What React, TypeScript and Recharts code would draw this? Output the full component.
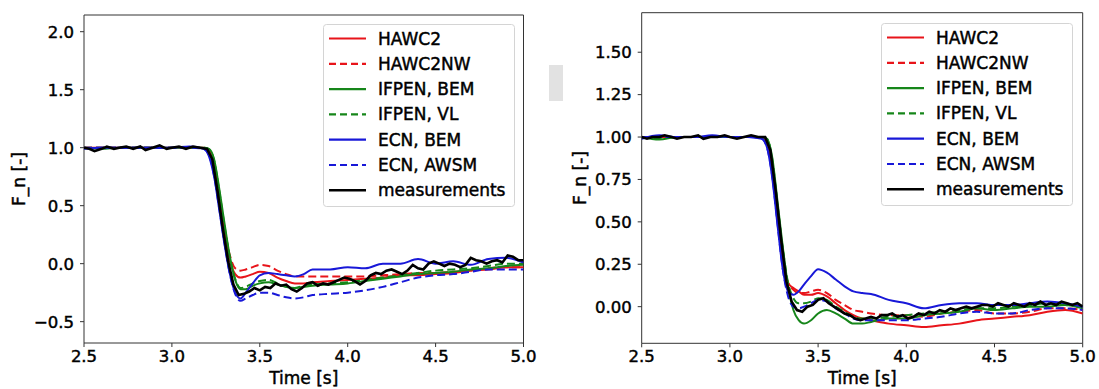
import React from "react";
import { Label, Line, LineChart, ReferenceArea, XAxis, YAxis } from "recharts";

// time grids
const tModel = [
  2.5, 2.6, 2.7, 2.8, 2.9, 3.0, 3.1, 3.18, 3.21, 3.24, 3.27, 3.3, 3.33, 3.36, 3.39, 3.42, 3.46, 3.5,
  3.55, 3.6, 3.65, 3.7, 3.75, 3.8, 3.9, 4.0, 4.1, 4.2, 4.3, 4.4, 4.5, 4.6, 4.7, 4.8, 4.9, 5.0,
];
const tMeas = [
  2.5, 2.53, 2.56, 2.6, 2.63, 2.67, 2.7, 2.74, 2.78, 2.82, 2.85, 2.89, 2.93, 2.97, 3.0, 3.04, 3.08,
  3.12, 3.16, 3.2, 3.23, 3.26, 3.29, 3.32, 3.35, 3.38, 3.41, 3.44, 3.47, 3.5, 3.53, 3.56, 3.59, 3.62,
  3.65, 3.68, 3.71, 3.74, 3.77, 3.8, 3.83, 3.86, 3.89, 3.92, 3.95, 3.98, 4.01, 4.04, 4.07, 4.1, 4.13,
  4.16, 4.19, 4.22, 4.25, 4.28, 4.31, 4.34, 4.37, 4.4, 4.43, 4.46, 4.49, 4.52, 4.55, 4.58, 4.61, 4.64,
  4.67, 4.7, 4.73, 4.76, 4.79, 4.82, 4.85, 4.88, 4.91, 4.94, 4.97, 5.0,
];

const xTicks = [2.5, 3.0, 3.5, 4.0, 4.5, 5.0];
const leftTicks = [-0.5, 0, 0.5, 1.0, 1.5, 2.0];
const rightTicks = [0, 0.25, 0.5, 0.75, 1.0, 1.25, 1.5];

// left panel
const hawc2L = [
  1.0, 1.0, 1.0, 1.0, 1.0, 1.0, 1.0, 1.0, 0.98, 0.84, 0.56, 0.27, 0.03, -0.09, -0.12, -0.11, -0.09,
  -0.07, -0.08, -0.12, -0.15, -0.17, -0.17, -0.16, -0.15, -0.14, -0.13, -0.12, -0.1, -0.1, -0.09,
  -0.08, -0.06, -0.05, -0.03, -0.03,
];
const hawc2nwL = [
  1.0, 1.0, 1.0, 1.0, 1.0, 1.0, 1.0, 1.0, 0.98, 0.84, 0.57, 0.29, 0.07, -0.04, -0.06, -0.05, -0.03,
  -0.01, -0.02, -0.06, -0.09, -0.11, -0.11, -0.11, -0.11, -0.11, -0.11, -0.1, -0.09, -0.08, -0.08,
  -0.07, -0.06, -0.04, -0.03, -0.03,
];
const ifpenBemL = [
  1.0, 0.99, 1.0, 1.0, 1.0, 1.0, 1.0, 1.0, 0.99, 0.9, 0.64, 0.34, 0.06, -0.14, -0.22, -0.22, -0.19,
  -0.17, -0.16, -0.18, -0.2, -0.21, -0.2, -0.19, -0.18, -0.17, -0.15, -0.13, -0.11, -0.09, -0.08,
  -0.07, -0.05, -0.04, -0.02, -0.01,
];
const ifpenVlL = [
  1.0, 1.0, 1.0, 1.0, 1.0, 1.0, 1.0, 1.0, 0.99, 0.89, 0.62, 0.32, 0.05, -0.13, -0.21, -0.2, -0.17,
  -0.15, -0.14, -0.17, -0.2, -0.21, -0.19, -0.18, -0.17, -0.16, -0.14, -0.12, -0.1, -0.08, -0.06,
  -0.05, -0.04, -0.02, 0.0, 0.0,
];
const ecnBemL = [
  0.99, 1.0, 1.0, 1.0, 1.0, 1.0, 1.01, 0.99, 0.93, 0.75, 0.46, 0.16, -0.09, -0.25, -0.3, -0.25,
  -0.17, -0.1, -0.08, -0.09, -0.1, -0.11, -0.09, -0.05, -0.05, -0.03, -0.04, 0.0, 0.0, 0.04, 0.0,
  0.02, -0.01, 0.04, 0.05, 0.01,
];
const ecnAwsmL = [
  1.0, 1.0, 1.0, 1.0, 1.0, 1.0, 1.0, 0.99, 0.94, 0.76, 0.47, 0.17, -0.09, -0.26, -0.32, -0.3, -0.27,
  -0.25, -0.25, -0.27, -0.29, -0.3, -0.29, -0.27, -0.26, -0.25, -0.23, -0.2, -0.16, -0.12, -0.1,
  -0.09, -0.07, -0.05, -0.05, -0.05,
];
const measL = [
  1.0, 0.99, 0.97, 0.99, 1.01, 0.99, 1.0, 1.01, 0.99, 1.01, 0.98, 1.0, 1.02, 0.99, 1.0, 1.01, 0.99,
  1.01, 1.0, 0.99, 0.9, 0.62, 0.3, 0.02, -0.18, -0.27, -0.26, -0.24, -0.21, -0.23, -0.2, -0.21,
  -0.17, -0.19, -0.18, -0.22, -0.24, -0.21, -0.17, -0.16, -0.19, -0.17, -0.18, -0.16, -0.14, -0.12,
  -0.13, -0.15, -0.18, -0.15, -0.1, -0.08, -0.09, -0.06, -0.05, -0.07, -0.09, -0.06, -0.01, -0.04,
  -0.05, 0.0, 0.02, 0.0, -0.02, 0.0, -0.01, -0.03, -0.01, 0.05, 0.03, 0.02, 0.0, 0.02, 0.03, 0.01,
  0.07, 0.06, 0.03, 0.03,
];

// right panel
const hawc2R = [
  1.0, 1.0, 1.0, 1.0, 1.0, 1.0, 1.0, 1.0, 0.97, 0.8, 0.52, 0.28, 0.14, 0.11, 0.09, 0.07, 0.07, 0.08,
  0.06, 0.02, -0.02, -0.05, -0.07, -0.08, -0.1, -0.11, -0.12, -0.11, -0.1, -0.08, -0.07, -0.06,
  -0.05, -0.03, -0.02, -0.04,
];
const hawc2nwR = [
  1.0, 1.0, 1.0, 1.0, 1.0, 1.0, 1.0, 1.0, 0.97, 0.8, 0.53, 0.29, 0.14, 0.1, 0.08, 0.08, 0.09, 0.1,
  0.08, 0.04, 0.01, -0.02, -0.03, -0.04, -0.05, -0.05, -0.06, -0.04, -0.03, -0.02, -0.04, -0.04,
  -0.03, -0.01, -0.01, -0.02,
];
const ifpenBemR = [
  1.0, 0.985, 1.0, 1.0, 1.0, 1.0, 1.0, 1.0, 0.99, 0.88, 0.62, 0.35, 0.12, -0.02, -0.08, -0.1, -0.08,
  -0.04, -0.02, -0.04, -0.07, -0.1, -0.1, -0.09, -0.07, -0.07, -0.05, -0.04, -0.03, -0.01, -0.02,
  -0.01, 0.0, 0.0, 0.01, -0.01,
];
const ifpenVlR = [
  1.0, 0.99, 1.0, 1.0, 1.0, 1.0, 1.0, 1.0, 0.99, 0.87, 0.6, 0.34, 0.14, 0.05, 0.02, 0.02, 0.03, 0.05,
  0.04, 0.0, -0.03, -0.06, -0.07, -0.07, -0.06, -0.05, -0.04, -0.03, -0.02, -0.01, -0.01, 0.0, 0.01,
  0.02, 0.01, 0.0,
];
const ecnBemR = [
  0.99, 1.01, 1.0, 1.0, 1.01, 1.0, 1.0, 0.99, 0.94, 0.76, 0.48, 0.22, 0.09, 0.07, 0.09, 0.13, 0.18,
  0.22, 0.2, 0.16, 0.12, 0.09, 0.08, 0.075, 0.04, 0.02, -0.01, 0.01, 0.02, 0.02, 0.01, 0.01, 0.02,
  0.03, 0.02, 0.0,
];
const ecnAwsmR = [
  1.0, 1.0, 1.0, 1.0, 1.0, 1.0, 1.0, 0.99, 0.94, 0.77, 0.49, 0.22, 0.06, 0.0, -0.01, 0.0, 0.02, 0.04,
  0.03, -0.01, -0.04, -0.07, -0.08, -0.08, -0.08, -0.08, -0.07, -0.06, -0.04, -0.03, -0.04, -0.04,
  -0.02, -0.01, -0.01, -0.02,
];
const measR = [
  1.0, 0.99, 1.0, 1.0, 1.01, 1.0, 0.99, 1.0, 1.0, 1.01, 0.99, 1.0, 1.0, 1.01, 1.0, 0.99, 1.0, 1.01,
  1.0, 1.0, 0.92, 0.68, 0.4, 0.15, 0.03, -0.02, -0.03, 0.0, 0.01, 0.04, 0.05, 0.02, 0.0, -0.02,
  -0.04, -0.05, -0.07, -0.08, -0.07, -0.06, -0.07, -0.05, -0.05, -0.04, -0.06, -0.05, -0.07, -0.06,
  -0.04, -0.05, -0.03, -0.04, -0.02, -0.03, -0.01, -0.02, -0.01, 0.0, -0.01, 0.0, 0.01, 0.01, 0.0,
  0.02, 0.01, 0.0, 0.02, 0.01, 0.0, 0.02, 0.01, 0.03, 0.01, 0.02, 0.01, 0.03, 0.02, 0.01, 0.02, 0.0,
];

const labels = ["HAWC2", "HAWC2NW", "IFPEN, BEM", "IFPEN, VL", "ECN, BEM", "ECN, AWSM", "measurements"];

const RED = "#e8141a";
const GREEN = "#16861a";
const BLUE = "#1818d8";
const colors = [RED, RED, GREEN, GREEN, BLUE, BLUE, "#000"];
const dashed = [false, true, false, true, false, true, false];
const DASH = "8 4";
const FONT = "DejaVu Sans";
// the scanned figure has heavy text; a thin outline thickens the glyphs
const textInk = { fill: "#000", stroke: "#000", strokeWidth: 0.45 };

const toPoints = (ts: number[], vs: number[]) => ts.map((t, i) => ({ t, v: vs[i] }));

interface PanelProps {
  left: number;
  width: number;
  margin: { top: number; right: number; bottom: number; left: number };
  xAxisHeight: number;
  yDomain: [number, number];
  yTicks: number[];
  yDigits: number;
  series: number[][];
  ylabelX: number;
  ylabelY: number;
}

function Panel(p: PanelProps) {
  const fmtY = (v: number) => v.toFixed(p.yDigits).replace("-", "\u2212");
  return (
    <div style={{ position: "absolute", left: p.left, top: 0 }}>
      <LineChart width={p.width} height={389} margin={p.margin}>
        <ReferenceArea
          x1={2.5}
          x2={5}
          y1={p.yDomain[0]}
          y2={p.yDomain[1]}
          fill="none"
          stroke="#333"
          strokeWidth={1}
          ifOverflow="visible"
        />
        <XAxis
          type="number"
          dataKey="t"
          domain={[2.5, 5]}
          ticks={xTicks}
          tickFormatter={(v: number) => v.toFixed(1)}
          allowDataOverflow
          height={p.xAxisHeight}
          axisLine={false}
          tickLine={{ stroke: "#333" }}
          tickSize={4}
          tickMargin={3}
          tick={{ ...textInk, fontSize: 16.5, fontFamily: FONT }}
        >
          <Label value="Time [s]" position="insideBottom" offset={5} {...textInk} fontSize={17} fontFamily={FONT} />
        </XAxis>
        <YAxis
          type="number"
          domain={p.yDomain}
          ticks={p.yTicks}
          tickFormatter={fmtY}
          allowDataOverflow
          width={60}
          axisLine={false}
          tickLine={{ stroke: "#333" }}
          tickSize={4}
          tickMargin={6}
          tick={{ ...textInk, fontSize: 16.5, fontFamily: FONT }}
        >
          <Label
            content={() => (
              <text
                x={p.ylabelX}
                y={p.ylabelY}
                transform={`rotate(-90 ${p.ylabelX} ${p.ylabelY})`}
                textAnchor="middle"
                dominantBaseline="central"
                {...textInk}
                fontSize={17}
                fontFamily={FONT}
              >
                F_n [-]
              </text>
            )}
          />
        </YAxis>
        {p.series.map((vals, i) => (
          <Line
            key={labels[i]}
            data={toPoints(i === 6 ? tMeas : tModel, vals)}
            dataKey="v"
            type={i === 6 ? "linear" : "monotone"}
            stroke={colors[i]}
            strokeWidth={i === 6 ? 2.6 : 2}
            strokeDasharray={dashed[i] ? DASH : undefined}
            dot={false}
            isAnimationActive={false}
          />
        ))}
      </LineChart>
    </div>
  );
}

function LegendBox({ left, top }: { left: number; top: number }) {
  const w = 192;
  const h = 183;
  return (
    <svg style={{ position: "absolute", left, top }} width={w} height={h}>
      <rect x={0.5} y={0.5} width={w - 1} height={h - 1} rx={3} fill="rgba(255,255,255,0.85)" stroke="#d4d4d4" />
      {labels.map((lab, i) => {
        const y = 14.5 + 25.3 * i;
        return (
          <g key={lab}>
            <line
              x1={6}
              x2={43}
              y1={y}
              y2={y}
              stroke={colors[i]}
              strokeWidth={i === 6 ? 2.6 : 2.2}
              strokeDasharray={dashed[i] ? "7 4" : undefined}
            />
            <text x={55} y={y} dominantBaseline="central" fontSize={17} fontFamily={FONT} {...textInk}>
              {lab}
            </text>
          </g>
        );
      })}
    </svg>
  );
}

export default function App() {
  return (
    <div style={{ position: "absolute", left: 0, top: 0, width: 1099, height: 389, background: "#fff", overflow: "hidden" }}>
      <Panel
        left={0}
        width={550}
        margin={{ top: 15, right: 26.5, bottom: 0, left: 24 }}
        xAxisHeight={46}
        yDomain={[-0.684, 2.144]}
        yTicks={leftTicks}
        yDigits={1}
        series={[hawc2L, hawc2nwL, ifpenBemL, ifpenVlL, ecnBemL, ecnAwsmL, measL]}
        ylabelX={19}
        ylabelY={179}
      />
      <Panel
        left={560}
        width={539}
        margin={{ top: 12.7, right: 16.3, bottom: 0, left: 21.7 }}
        xAxisHeight={45.7}
        yDomain={[-0.216, 1.733]}
        yTicks={rightTicks}
        yDigits={2}
        series={[hawc2R, hawc2nwR, ifpenBemR, ifpenVlR, ecnBemR, ecnAwsmR, measR]}
        ylabelX={20}
        ylabelY={178}
      />
      <div style={{ position: "absolute", left: 549, top: 65, width: 14, height: 36, background: "#e2e2e2" }} />
      <LegendBox left={322.7} top={24} />
      <LegendBox left={880.8} top={22.7} />
    </div>
  );
}
